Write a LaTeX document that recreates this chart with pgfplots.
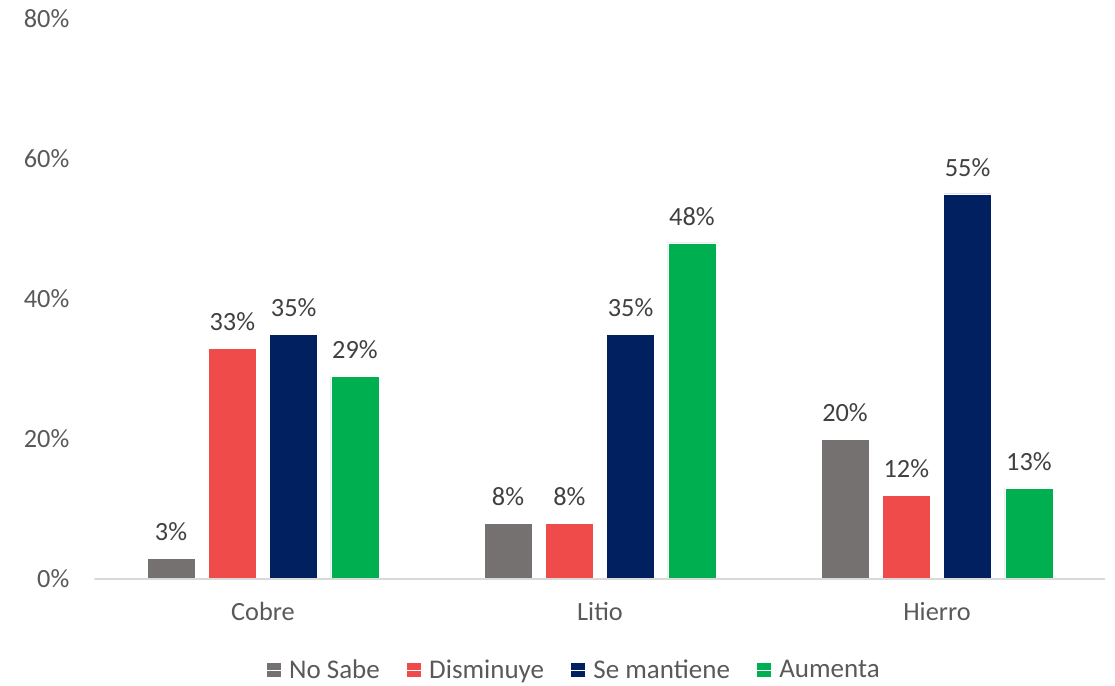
\documentclass[border=0pt]{standalone}
\usepackage{pgfplots}
\pgfplotsset{compat=1.18}
\usepackage{fontspec}
\setmainfont{Carlito}
\definecolor{cgray}{HTML}{767171}
\definecolor{cred}{HTML}{EF4B4B}
\definecolor{cnavy}{HTML}{002060}
\definecolor{cgreen}{HTML}{00B050}
\definecolor{axgray}{HTML}{D9D9D9}
\definecolor{txt}{HTML}{595959}
\definecolor{lbl}{HTML}{404040}
\begin{document}
\begin{tikzpicture}
\path[use as bounding box] (-94.5pt,-106pt) rectangle (1020.5pt,579pt);
\begin{axis}[
  scale only axis,
  width=1011pt, height=560pt,
  ybar=13.3pt, bar width=48pt,
  xmin=-0.5, xmax=2.5,
  ymin=0, ymax=80,
  xtick=data,
  xticklabels={Cobre,Litio,Hierro},
  ytick={0,20,40,60,80},
  yticklabels={0\%,20\%,40\%,60\%,80\%},
  major tick length=0pt,
  axis line style={draw=none},
  tick label style={font=\fontsize{26.3}{31}\selectfont, text=txt, inner sep=0pt},
  yticklabel style={anchor=east, xshift=-25pt},
  xticklabel style={anchor=north, yshift=-23pt},
  /pgf/number format/assume math mode=true,
  nodes near coords={\pgfmathprintnumber{\pgfplotspointmeta}\%},
  every node near coord/.append style={font=\fontsize{26.3}{31}\selectfont, text=lbl, anchor=south, inner sep=0pt, yshift=17pt},
  legend columns=4,
  legend style={at={(0.475,-0.1625)}, anchor=center, draw=none, fill=none,
    font=\fontsize{27}{31}\selectfont, text=txt,
    /tikz/every even column/.append style={column sep=22pt},
    nodes={inner sep=4pt}},
  legend image code/.code={\fill[#1] (0pt,-7.5pt) rectangle (15pt,7.5pt); \path (0pt,0pt) -- (19pt,0pt);},
]
\addplot[fill=cgray, draw=white, line width=0.4pt] coordinates {(0,3) (1,8) (2,20)};
\addplot[fill=cred, draw=white, line width=0.4pt] coordinates {(0,33) (1,8) (2,12)};
\addplot[fill=cnavy, draw=white, line width=0.4pt] coordinates {(0,35) (1,35) (2,55)};
\addplot[fill=cgreen, draw=white, line width=0.4pt] coordinates {(0,29) (1,48) (2,13)};
\legend{No Sabe, Disminuye, Se mantiene, Aumenta}
\draw[axgray, line width=1.5pt] (rel axis cs:0,0) -- (rel axis cs:1,0);
\end{axis}
\end{tikzpicture}
\end{document}
